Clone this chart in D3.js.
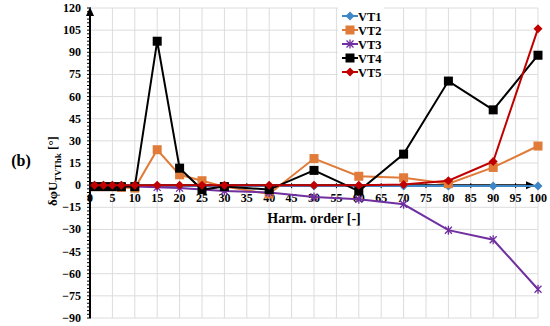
<!DOCTYPE html>
<html>
<head>
<meta charset="utf-8">
<script src="https://cdn.jsdelivr.net/npm/d3@7"></script>
<style>
  body { margin: 0; background: #fff; }
  text { font-family: "Liberation Serif", "Times New Roman", serif; font-weight: bold; }
</style>
</head>
<body>
<svg id="chart" width="550" height="326"></svg>
<script>
var harmOrder = [1, 3, 5, 7, 10, 15, 20, 25, 30, 40, 50, 60, 70, 80, 90, 100];
var vt1 = [0, 0, 0, 0, 0, -0.5, -0.5, -0.5, -0.5, -0.5, -0.5, -0.5, -0.5, -0.5, -0.5, -0.5];
var vt2 = [-1, -1, -1, -1.5, -2, 24, 7, 3, -1, -6, 18, 6, 5, 1, 12, 26.5];
var vt3 = [-1, -1, -1, -1, -1, -1.5, -2, -3, -4, -5, -8, -9.5, -13, -30.5, -37, -70.5];
var vt4 = [-1, -1, -1, -1, -1, 97.5, 11.5, -3, -1, -3, 10, -4, 21, 70.5, 51, 88];
var vt5 = [0, 0, 0, 0, 0, 0, 0, 0, 0, 0, 0, 0, 0.5, 3, 16, 106];
var seriesNames = ["VT1", "VT2", "VT3", "VT4", "VT5"];
var yTicks = [120, 105, 90, 75, 60, 45, 30, 15, 0, -15, -30, -45, -60, -75, -90];
var xTicks = d3.range(0, 101, 5);

var series = [
  {name: seriesNames[0], values: vt1, color: "#3f86c7", marker: "diamond"},
  {name: seriesNames[1], values: vt2, color: "#e07b39", marker: "square"},
  {name: seriesNames[2], values: vt3, color: "#7030a0", marker: "star"},
  {name: seriesNames[3], values: vt4, color: "#000000", marker: "square"},
  {name: seriesNames[4], values: vt5, color: "#c00000", marker: "diamond"}
];

var svg = d3.select("#chart");
var x = d3.scaleLinear().domain([0, 100]).range([90, 538]);
var y = d3.scaleLinear().domain([-90, 120]).range([318, 8]);

// grid
var grid = svg.append("g");
xTicks.forEach(function(t) {
  if (t === 0) return;
  grid.append("line").attr("x1", x(t)).attr("x2", x(t)).attr("y1", y(120)).attr("y2", y(-90))
    .attr("stroke", "#dcdcdc").attr("stroke-width", 1);
});
yTicks.forEach(function(t) {
  grid.append("line").attr("x1", x(0)).attr("x2", x(100)).attr("y1", y(t)).attr("y2", y(t))
    .attr("stroke", "#dcdcdc").attr("stroke-width", 1);
});

// legend background
var lg = svg.append("g");
lg.append("rect").attr("x", 338).attr("y", 6).attr("width", 46).attr("height", 72).attr("fill", "#fff");

// axes
var axes = svg.append("g");
var minor = d3.range(-90, 120.01, 2.5);
minor.forEach(function(t) {
  axes.append("line").attr("x1", x(0) - 3).attr("x2", x(0) + 1).attr("y1", y(t)).attr("y2", y(t))
    .attr("stroke", "#000").attr("stroke-width", 1);
});
xTicks.forEach(function(t) {
  axes.append("line").attr("x1", x(t)).attr("x2", x(t)).attr("y1", y(0) - 2).attr("y2", y(0) + 3)
    .attr("stroke", "#000").attr("stroke-width", 1);
});
axes.append("line").attr("x1", x(0)).attr("x2", x(0)).attr("y1", y(-90)).attr("y2", y(120) + 4)
  .attr("stroke", "#000").attr("stroke-width", 2);
axes.append("path").attr("d", "M" + x(0) + "," + (y(120) - 1) + "l-4,9l8,0z").attr("fill", "#000");
axes.append("line").attr("x1", x(0)).attr("x2", 530).attr("y1", y(0)).attr("y2", y(0))
  .attr("stroke", "#000").attr("stroke-width", 2);
axes.append("path").attr("d", "M535," + y(0) + "l-9,-4l0,8z").attr("fill", "#000");

yTicks.forEach(function(t) {
  axes.append("text").attr("x", 81).attr("y", y(t) + 4).attr("text-anchor", "end")
    .attr("font-size", 12).text(t < 0 ? "\u2212" + Math.abs(t) : t);
});
xTicks.forEach(function(t) {
  axes.append("text").attr("x", x(t)).attr("y", y(0) + 17).attr("text-anchor", "middle")
    .attr("font-size", 12).text(t);
});

// series
var line = d3.line().x(function(d) { return x(d[0]); }).y(function(d) { return y(d[1]); });
function drawMarker(g, kind, cx, cy, color) {
  if (kind === "diamond") {
    g.append("path").attr("d", "M" + cx + "," + (cy - 4.5) + "l4.5,4.5l-4.5,4.5l-4.5,-4.5z").attr("fill", color);
  } else if (kind === "square") {
    g.append("rect").attr("x", cx - 4.5).attr("y", cy - 4.5).attr("width", 9).attr("height", 9).attr("fill", color);
  } else {
    var r = 3.5;
    g.append("path").attr("d", "M" + (cx - r) + "," + (cy - r) + "L" + (cx + r) + "," + (cy + r) +
      "M" + (cx - r) + "," + (cy + r) + "L" + (cx + r) + "," + (cy - r) +
      "M" + cx + "," + (cy - r - 1) + "L" + cx + "," + (cy + r + 1))
      .attr("stroke", color).attr("stroke-width", 1.3).attr("fill", "none");
  }
}
series.forEach(function(s) {
  var pts = harmOrder.map(function(h, i) { return [h, s.values[i]]; });
  var g = svg.append("g");
  g.append("path").attr("d", line(pts)).attr("fill", "none").attr("stroke", s.color).attr("stroke-width", 2);
  pts.forEach(function(p) { drawMarker(g, s.marker, x(p[0]), y(p[1]), s.color); });
});

// legend
series.forEach(function(s, i) {
  var ly = 16 + i * 14;
  lg.append("line").attr("x1", 342).attr("x2", 358).attr("y1", ly).attr("y2", ly)
    .attr("stroke", s.color).attr("stroke-width", 2);
  drawMarker(lg, s.marker, 350, ly, s.color);
  lg.append("text").attr("x", 358).attr("y", ly + 4.5).attr("font-size", 12.5).text(s.name);
});

// y label
var yl = svg.append("text").attr("transform", "translate(57,171) rotate(-90)")
  .attr("text-anchor", "middle").attr("font-size", 13);
yl.append("tspan").text("\u03b4\u03c6U");
yl.append("tspan").attr("font-size", 9).attr("dy", 4).text("TVThk");
yl.append("tspan").attr("dy", -4).text(" [\u00b0]");

svg.append("text").attr("x", 21).attr("y", 166).attr("text-anchor", "middle").attr("font-size", 16).text("(b)");
svg.append("text").attr("x", x(50)).attr("y", y(0) + 38).attr("text-anchor", "middle").attr("font-size", 14).text("Harm. order [-]");
</script>
</body>
</html>
